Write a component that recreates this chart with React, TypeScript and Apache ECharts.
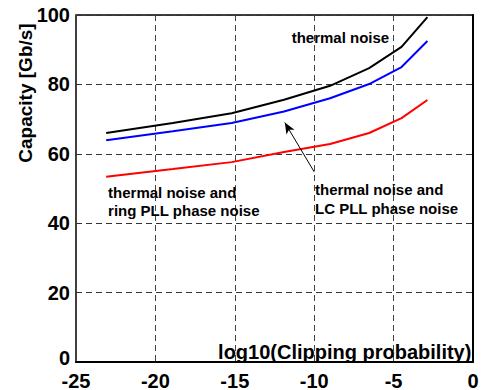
import React, { useEffect, useRef } from "react";
import * as echarts from "echarts";

// log10 of the clipping probability
const logClipProb = [-23.1, -18.9, -15.2, -11.9, -9.0, -6.54, -4.5, -2.87];
// Capacity [Gb/s]
const thermalNoise = [66.0, 68.9, 71.7, 75.6, 79.6, 84.7, 90.8, 99.4];
const thermalLcPll = [63.9, 66.5, 68.9, 72.2, 76.0, 80.1, 85.0, 92.5];
const thermalRingPll = [53.4, 55.6, 57.6, 60.5, 62.8, 66.0, 70.3, 75.5];

const xTicks = [-25, -20, -15, -10, -5, 0];
const yTicks = [0, 20, 40, 60, 80, 100];

const seriesNames = ["thermal noise", "thermal noise and LC PLL phase noise", "thermal noise and ring PLL phase noise"];

const FONT = "'Liberation Sans', Arial, Helvetica, sans-serif";

export default function App() {
  const ref = useRef<HTMLDivElement>(null);

  useEffect(() => {
    if (!ref.current) return;
    const chart = echarts.init(ref.current, undefined, { renderer: "svg" });
    const toPairs = (ys: number[]) => logClipProb.map((x, i) => [x, ys[i]]);

    chart.setOption({
      animation: false,
      backgroundColor: "#fff",
      grid: {
        left: 76,
        top: 15,
        right: 9,
        bottom: 28,
        outerBoundsMode: "none",
        containLabel: false,
        show: true,
        borderColor: "#000",
        borderWidth: 1.5,
        backgroundColor: "transparent",
      },
      xAxis: {
        type: "value",
        min: xTicks[0],
        max: xTicks[xTicks.length - 1],
        interval: 5,
        axisLine: { show: true, lineStyle: { color: "#000", width: 2 } },
        axisTick: { show: false },
        axisLabel: { color: "#000", fontSize: 20, lineHeight: 17, fontWeight: "bold", fontFamily: FONT, margin: 10 },
        splitLine: { show: true, lineStyle: { color: "#444", width: 1, type: [6, 4] } },
      },
      yAxis: {
        type: "value",
        min: yTicks[0],
        max: yTicks[yTicks.length - 1],
        interval: 20,
        axisLine: { show: true, lineStyle: { color: "#000", width: 2 } },
        axisTick: { show: false },
        axisLabel: {
          color: "#000",
          fontSize: 20,
          lineHeight: 17,
          fontWeight: "bold",
          fontFamily: FONT,
          margin: 6,
          formatter: (v: number) => (v === 0 ? "{zero|0}" : String(v)),
          rich: {
            zero: {
              color: "#000",
              fontSize: 20,
              lineHeight: 17,
              fontWeight: "bold",
              fontFamily: FONT,
              padding: [0, 0, 8, 0],
            },
          },
        },
        splitLine: { show: true, lineStyle: { color: "#333", width: 1, type: [6, 4] } },
      },
      series: [
        {
          name: seriesNames[0],
          type: "line",
          data: toPairs(thermalNoise),
          showSymbol: false,
          lineStyle: { color: "#000", width: 2 },
        },
        {
          name: seriesNames[1],
          type: "line",
          data: toPairs(thermalLcPll),
          showSymbol: false,
          lineStyle: { color: "#0000ff", width: 2 },
          markLine: {
            silent: true,
            symbol: ["none", "arrow"],
            symbolSize: [7, 11],
            label: { show: false },
            lineStyle: { color: "#000", width: 1, type: "solid" },
            data: [[{ coord: [-10.0, 54.8] }, { coord: [-11.85, 69.0] }]],
          },
        },
        {
          name: seriesNames[2],
          type: "line",
          data: toPairs(thermalRingPll),
          showSymbol: false,
          lineStyle: { color: "#ff0000", width: 2 },
        },
      ],
    });

    const at = (x: number, y: number) => chart.convertToPixel({ gridIndex: 0 }, [x, y]) as number[];
    const txt = (text: string, pos: number[], size: number, align = "left") => ({
      type: "text",
      x: pos[0],
      y: pos[1],
      silent: true,
      style: {
        text,
        fill: "#000",
        font: `bold ${size}px ${FONT}`,
        textAlign: align,
        textVerticalAlign: "middle",
      },
    });

    chart.setOption({
      graphic: [
        txt("thermal noise", at(-11.42, 93.4), 15),
        txt("thermal noise and", at(-22.98, 48.9), 15),
        txt("ring PLL phase noise", at(-22.98, 43.6), 15),
        txt("thermal noise and", at(-9.95, 49.6), 15),
        txt("LC PLL phase noise", at(-9.95, 44.1), 15),
        txt("log10(Clipping probability)", at(-0.1, 2.9), 20, "right"),
        {
          type: "text",
          x: 25,
          y: 93,
          rotation: Math.PI / 2,
          silent: true,
          style: {
            text: "Capacity [Gb/s]",
            fill: "#000",
            font: `bold 19px ${FONT}`,
            textAlign: "center",
            textVerticalAlign: "middle",
          },
        },
      ],
    });

    return () => chart.dispose();
  }, []);

  return (
    <div
      ref={ref}
      style={{ position: "fixed", left: 0, top: 0, width: 482, height: 390, background: "#fff" }}
    />
  );
}
